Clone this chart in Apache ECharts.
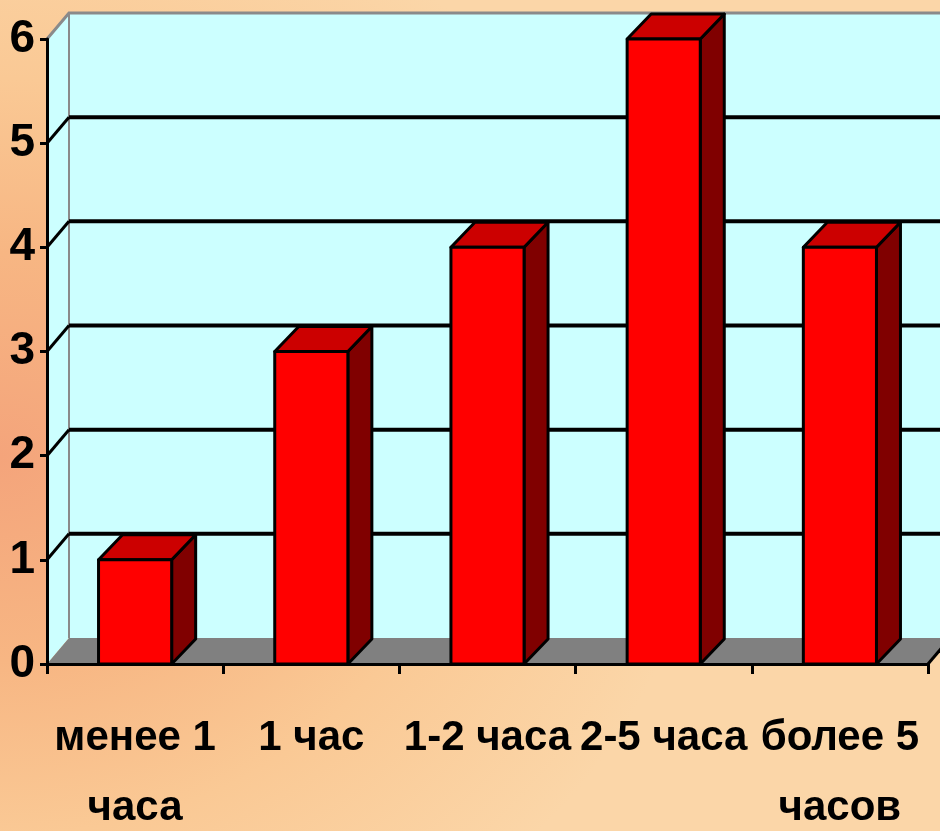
<!DOCTYPE html>
<html>
<head>
<meta charset="utf-8">
<script src="https://cdn.jsdelivr.net/npm/echarts@6/dist/echarts.min.js"></script>
<style>
  html, body { margin: 0; padding: 0; }
  #chart {
    width: 940px; height: 831px;
    background: radial-gradient(ellipse 75% 70% at 0% 55%, #F4A47B 0%, #F7B683 35%, #FAC995 65%, #FBD6A8 100%);
    background-color: #FBD8AC;
  }
</style>
</head>
<body>
<div id="chart"></div>
<script>
// ---- data ----
const categories = ['менее 1\nчаса', '1 час', '1-2 часа', '2-5 часа', 'более 5\nчасов'];
const values = [1, 3, 4, 6, 4];
const yTicks = [0, 1, 2, 3, 4, 5, 6];

// ---- style ----
const WALL_DX = 22, WALL_DY = -26;
const BAR_DX = 24, BAR_DY = -25;
const FONT = '"Liberation Sans", Arial, sans-serif';

const chart = echarts.init(document.getElementById('chart'), null, { renderer: 'canvas' });

const option = {
  backgroundColor: 'transparent',
  animation: false,
  grid: { left: 47, top: 39, width: 881, height: 625, outerBoundsMode: 'none', containLabel: false },
  xAxis: {
    type: 'category',
    data: categories,
    z: 10,
    axisLine: { show: true, lineStyle: { color: '#000', width: 3 } },
    axisTick: { show: true, length: 10, lineStyle: { color: '#000', width: 3 } },
    axisLabel: {
      color: '#000', fontFamily: FONT, fontWeight: 'bold', fontSize: 42,
      lineHeight: 70, margin: 39, interval: 0
    },
    splitLine: { show: false }
  },
  yAxis: {
    type: 'value',
    min: yTicks[0], max: yTicks[yTicks.length - 1], interval: 1,
    z: 10,
    axisLine: { show: true, lineStyle: { color: '#000', width: 3 } },
    axisTick: { show: true, length: 7, lineStyle: { color: '#000', width: 3 } },
    axisLabel: {
      color: '#000', fontFamily: FONT, fontWeight: 'bold', fontSize: 46, margin: 12
    },
    splitLine: { show: false }
  },
  series: [
    {
      // walls + floor
      type: 'custom',
      z: 1,
      silent: true,
      data: [0],
      renderItem: function (params, api) {
        const cs = params.coordSys;
        const x0 = cs.x, y0 = cs.y, w = cs.width, h = cs.height;
        const yb = y0 + h;
        return {
          type: 'group',
          children: [
            { type: 'rect', shape: { x: x0 + WALL_DX, y: y0 + WALL_DY, width: w, height: h },
              style: { fill: '#CCFFFF', stroke: null } },
            { type: 'polygon', shape: { points: [[x0, y0], [x0 + WALL_DX, y0 + WALL_DY], [x0 + WALL_DX, yb + WALL_DY], [x0, yb]] },
              style: { fill: '#CCFFFF', stroke: null } },
            { type: 'polyline', shape: { points: [[x0, y0], [x0 + WALL_DX, y0 + WALL_DY], [x0 + w + WALL_DX + 40, y0 + WALL_DY]] },
              style: { fill: null, stroke: '#8A8A8A', lineWidth: 3 } },
            { type: 'line', shape: { x1: x0 + WALL_DX, y1: y0 + WALL_DY, x2: x0 + WALL_DX, y2: yb + WALL_DY },
              style: { stroke: '#8A8A8A', lineWidth: 2 } },
            { type: 'polygon', shape: { points: [[x0, yb], [x0 + w, yb], [x0 + w + WALL_DX, yb + WALL_DY], [x0 + WALL_DX, yb + WALL_DY]] },
              style: { fill: '#808080', stroke: null } },
            { type: 'line', shape: { x1: x0 + w, y1: yb, x2: x0 + w + WALL_DX, y2: yb + WALL_DY },
              style: { stroke: '#000', lineWidth: 3 } }
          ]
        };
      }
    },
    {
      // gridlines on the back and side walls
      type: 'custom',
      z: 2,
      silent: true,
      data: yTicks,
      renderItem: function (params, api) {
        const v = api.value(0);
        if (v <= yTicks[0] || v >= yTicks[yTicks.length - 1]) return null;
        const cs = params.coordSys;
        const y = api.coord([0, v])[1];
        return {
          type: 'group',
          children: [
            { type: 'line', shape: { x1: cs.x + WALL_DX, y1: y + WALL_DY, x2: cs.x + cs.width + WALL_DX + 40, y2: y + WALL_DY },
              style: { stroke: '#000', lineWidth: 4 } },
            { type: 'line', shape: { x1: cs.x, y1: y, x2: cs.x + WALL_DX, y2: y + WALL_DY },
              style: { stroke: '#000', lineWidth: 3 } }
          ]
        };
      }
    },
    {
      // 3D bars
      type: 'custom',
      z: 3,
      data: values.map((v, i) => [i, v]),
      renderItem: function (params, api) {
        const i = api.value(0), v = api.value(1);
        const top = api.coord([i, v]);
        const base = api.coord([i, 0]);
        const bw = api.size([1, 0])[0] * 0.415;
        const xl = top[0] - bw / 2, xr = top[0] + bw / 2;
        const yt = top[1], yb = base[1];
        const st = { stroke: '#000', lineWidth: 3, lineJoin: 'round' };
        return {
          type: 'group',
          children: [
            { type: 'polygon', shape: { points: [[xr, yt], [xr + BAR_DX, yt + BAR_DY], [xr + BAR_DX, yb + BAR_DY], [xr, yb]] },
              style: Object.assign({ fill: '#800000' }, st) },
            { type: 'polygon', shape: { points: [[xl, yt], [xr, yt], [xr + BAR_DX, yt + BAR_DY], [xl + BAR_DX, yt + BAR_DY]] },
              style: Object.assign({ fill: '#CC0000' }, st) },
            { type: 'rect', shape: { x: xl, y: yt, width: bw, height: yb - yt },
              style: Object.assign({ fill: '#FF0000' }, st) }
          ]
        };
      }
    }
  ]
};

chart.setOption(option);
</script>
</body>
</html>
